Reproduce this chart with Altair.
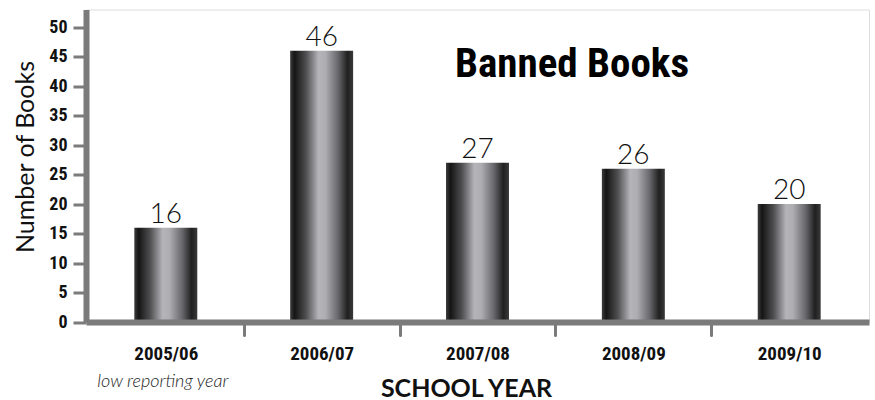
import altair as alt
import pandas as pd

# ---- data ----
years = ["2005/06", "2006/07", "2007/08", "2008/09", "2009/10"]
counts = [16, 46, 27, 26, 20]
y_ticks = [0, 5, 10, 15, 20, 25, 30, 35, 40, 45, 50]
notes = ["low reporting year", "", "", "", ""]
chart_title = ["Banned Books"]

df = pd.DataFrame({"year": years, "count": counts, "note": notes})
title_df = pd.DataFrame({"t": chart_title})

NARROW = "Roboto Condensed, Noto Sans Condensed, Liberation Sans Narrow, DejaVu Sans Condensed, sans-serif"
AXIS_GRAY = "#7b7b7b"
STEP = 783 / (5 - 0.596 + 0.62)

bar_fill = alt.LinearGradient(
    gradient="linear",
    x1=0, x2=1, y1=0, y2=0,
    stops=[
        alt.GradientStop(color="#3c3c3c", offset=0),
        alt.GradientStop(color="#151515", offset=0.07),
        alt.GradientStop(color="#4e4e50", offset=0.25),
        alt.GradientStop(color="#b4b4b9", offset=0.45),
        alt.GradientStop(color="#adadb2", offset=0.56),
        alt.GradientStop(color="#68686c", offset=0.76),
        alt.GradientStop(color="#202020", offset=0.91),
        alt.GradientStop(color="#3a3a3a", offset=1),
    ],
)

x_enc = alt.X(
    "year:N",
    sort=years,
    scale=alt.Scale(paddingInner=0.596, paddingOuter=0.31),
    axis=alt.Axis(
        title="SCHOOL YEAR",
        titleFont="Lato",
        titleFontSize=25,
        titleFontWeight="bold",
        titleColor="#111111",
        titleX=380,
        titleY=74,
        titleBaseline="alphabetic",
        titleAlign="center",
        labelFont=NARROW,
        labelFontSize=19,
        labelFontWeight="bold",
        labelColor="#111111",
        labelAngle=0,
        labelPadding=9,
        labelOverlap=False,
        tickOffset=-STEP / 2,
        labelOffset=STEP / 2,
        tickSize=13,
        tickWidth=3,
        tickColor=AXIS_GRAY,
        tickCap="round",
        tickOpacity={"condition": {"test": "datum.value === '2005/06'", "value": 0}, "value": 1},
        domainColor=AXIS_GRAY,
        domainWidth=6,
        zindex=1,
    ),
)

y_enc = alt.Y(
    "count:Q",
    scale=alt.Scale(domain=[0, 53], nice=False),
    axis=alt.Axis(
        values=y_ticks,
        title="Number of Books",
        titleFont="Lato",
        titleFontSize=25,
        titleFontWeight="normal",
        titleColor="#111111",
        titleAngle=270,
        titleX=-53,
        titleY=147,
        titleBaseline="alphabetic",
        titleAlign="center",
        labelFont=NARROW,
        labelFontSize=18,
        labelFontWeight="bold",
        labelColor="#111111",
        labelPadding=6,
        labelOverlap=False,
        labelFlush=False,
        tickSize=13,
        tickWidth=3,
        tickColor=AXIS_GRAY,
        domainColor=AXIS_GRAY,
        domainWidth=6,
        grid=False,
        zindex=1,
    ),
)

base = alt.Chart(df).encode(x=x_enc, y=y_enc)

bars = base.mark_bar(color=bar_fill)

values = base.mark_text(
    font="Lato", fontSize=28, fontWeight=300, color="#111111",
    baseline="alphabetic", dy=-5,
).encode(text="count:Q")

note = base.mark_text(
    font="Lato", fontSize=18, fontStyle="italic", fontWeight=300, color="#222222",
    baseline="alphabetic", dx=-3,
).encode(y=alt.value(377), text="note:N")

title_mark = alt.Chart(title_df).mark_text(
    font=NARROW, fontSize=41, fontWeight="bold", color="#000000",
    align="center", baseline="alphabetic",
).encode(x=alt.value(486), y=alt.value(67.5), text="t:N")

chart = (
    alt.layer(bars, values, note, title_mark)
    .properties(
        width=783,
        height=312.5,
        autosize=alt.AutoSizeParams(type="none"),
        padding={"left": 86, "top": 9.5, "right": 6, "bottom": 78},
    )
    .configure_view(stroke=None)
    .configure(background="white")
)

chart.save("out.html", embed_options={"renderer": "svg", "actions": False})
